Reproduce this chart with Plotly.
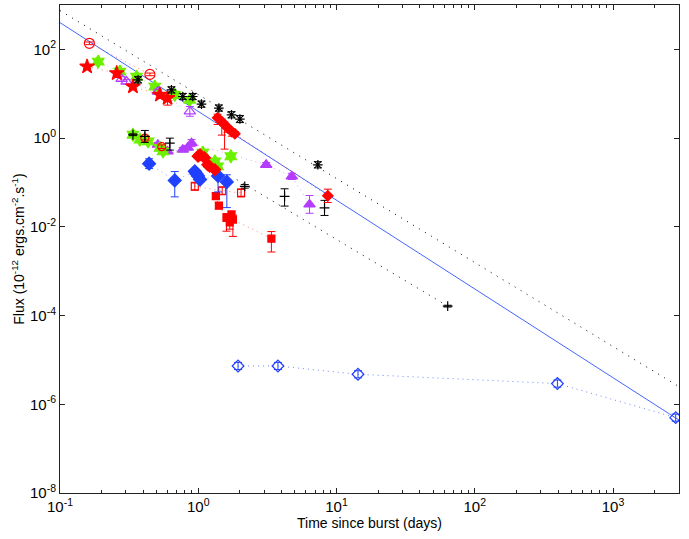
import numpy as np
import plotly.graph_objects as go

# time since burst (days) / flux (1e-12 erg cm^-2 s^-1)
red_circ_t = [0.163, 0.447]
red_circ_f = [137, 27.3]
red_circ_e = [0.03, 0.03]

red_circ2_t = [0.411, 0.545]
red_circ2_f = [1.0, 0.64]
red_circ2_e = [0.04, 0.04]

red_star_t = [0.157, 0.257, 0.337, 0.528, 0.60]
red_star_f = [40.9, 29.0, 14.5, 9.45, 8.0]
red_star_up = [0.04, 0.04, 0.04, 0.04, 0.04]
red_star_dn = [0.04, 0.04, 0.05, 0.06, 0.16]

green_t = [0.189, 0.271, 0.358, 0.485, 0.676, 0.869]
green_f = [53, 31.5, 24.4, 14.5, 9.45, 7.3]
green_e = [0.05, 0.05, 0.05, 0.05, 0.05, 0.05]

green2_t = [0.337, 0.378, 0.434, 0.528, 0.556, 1.08, 1.32, 1.38, 1.72]
green2_f = [1.19, 0.92, 0.84, 0.60, 0.50, 0.47, 0.30, 0.23, 0.39]
green2_e = [0.05, 0.05, 0.05, 0.05, 0.05, 0.05, 0.05, 0.05, 0.05]

purple_open_t = [0.279, 0.303, 0.51, 0.869]
purple_open_f = [21.6, 18.8, 11.2, 4.0]
purple_open_e = [0.05, 0.05, 0.05, 0.11]

black_ast_t = [0.367, 0.64, 0.773, 0.912, 1.055, 1.41, 1.74, 2.0, 7.33]
black_ast_f = [20.6, 12.2, 8.65, 8.65, 5.83, 4.75, 3.35, 2.69, 0.25]
black_ast_e = [0.07, 0.07, 0.07, 0.07, 0.07, 0.07, 0.07, 0.08, 0.07]

red_dia_t = [1.38, 1.48, 1.55, 1.63, 1.75, 1.84, 8.65]
red_dia_f = [2.87, 2.33, 2.0, 1.71, 1.39, 1.25, 0.050]
red_dia_up = [0.08, 0.06, 0.06, 0.05, 0.05, 0.05, 0.15]
red_dia_dn = [0.15, 0.3, 0.55, 0.1, 0.1, 0.05, 0.15]

red_dia2_t = [0.996, 1.03, 1.11, 1.17, 1.21, 1.32]
red_dia2_f = [0.39, 0.42, 0.36, 0.25, 0.23, 0.194]
red_dia2_e = [0.05, 0.05, 0.06, 0.06, 0.06, 0.06]

black_plus_t = [0.337, 0.411, 0.623, 2.17, 4.21, 8.19, 63.7]
black_plus_f = [1.19, 1.09, 0.774, 0.0817, 0.0487, 0.0267, 1.63e-4]
black_plus_up = [0.02, 0.135, 0.11, 0.04, 0.17, 0.17, 0.02]
black_plus_dn = [0.02, 0.135, 0.16, 0.04, 0.22, 0.17, 0.02]

purple_t = [0.51, 0.60, 0.773, 0.84, 0.894, 3.10, 4.75, 6.38]
purple_f = [0.71, 0.50, 0.55, 0.61, 0.77, 0.25, 0.137, 0.032]
purple_e = [0.05, 0.05, 0.05, 0.05, 0.08, 0.05, 0.07, 0.2]

blue_t = [0.441, 0.676, 0.944, 0.97, 0.996, 1.03, 1.39, 1.61]
blue_f = [0.265, 0.111, 0.178, 0.158, 0.14, 0.116, 0.14, 0.103]
blue_up = [0.11, 0.2, 0.05, 0.05, 0.05, 0.05, 0.2, 0.16]
blue_dn = [0.11, 0.37, 0.05, 0.05, 0.05, 0.05, 0.36, 0.58]

red_sq_t = [1.34, 1.41, 1.60, 1.69, 1.74, 1.78, 3.38]
red_sq_f = [0.049, 0.030, 0.0159, 0.0125, 0.0189, 0.0146, 0.0054]
red_sq_up = [0.07, 0.07, 0.1, 0.1, 0.08, 0.1, 0.16]
red_sq_dn = [0.07, 0.07, 0.3, 0.15, 0.1, 0.38, 0.3]

red_osq_t = [0.944, 1.49, 2.04]
red_osq_f = [0.082, 0.065, 0.058]
red_osq_e = [0.09, 0.09, 0.09]

blue_open_t = [1.94, 3.77, 14.3, 396, 2840]
blue_open_f = [7.3e-6, 7.3e-6, 4.74e-6, 2.93e-6, 5.0e-7]
blue_open_e = [0.08, 0.08, 0.08, 0.08, 0.08]

# power-law fits
fit_blue_t = [0.1, 3000]
fit_blue_f = [400, 4.4e-7]
fit_upper_t = [0.1, 3000]
fit_upper_f = [750, 2.5e-6]
fit_lower_t = [1.9, 63.7]
fit_lower_f = [0.116, 1.63e-4]

RED = "#ff0000"
GREEN = "#6cf000"
PURPLE = "#b43cff"
BLUE = "#2040ff"
BLACK = "#000000"

fig = go.Figure()


def add_set(t, f, up, dn, symbol, color, size, line_rgba=None, lw=1.2):
    f_arr = np.asarray(f, float)
    e_up = f_arr * (10 ** np.asarray(up, float) - 1)
    e_dn = f_arr * (1 - 10 ** -np.asarray(dn, float))
    fig.add_trace(go.Scatter(
        x=t, y=f, mode="lines+markers" if line_rgba else "markers",
        line=dict(color=line_rgba or color, width=1, dash="1px,4px"),
        marker=dict(symbol=symbol, size=size, color=color,
                    line=dict(color=color, width=lw)),
        error_y=dict(type="data", symmetric=False, array=e_up, arrayminus=e_dn,
                     color=color, thickness=1, width=4),
        showlegend=False, hoverinfo="skip",
    ))


# fit lines first so markers sit on top
fig.add_trace(go.Scatter(x=fit_blue_t, y=fit_blue_f, mode="lines",
                         line=dict(color="#4466ff", width=1), showlegend=False))
fig.add_trace(go.Scatter(x=fit_upper_t, y=fit_upper_f, mode="lines",
                         line=dict(color=BLACK, width=1, dash="1px,6px"), showlegend=False))
fig.add_trace(go.Scatter(x=fit_lower_t, y=fit_lower_f, mode="lines",
                         line=dict(color=BLACK, width=1, dash="1px,6px"), showlegend=False))

add_set(blue_open_t, blue_open_f, blue_open_e, blue_open_e, "diamond-open", BLUE, 9,
        line_rgba="rgba(60,90,255,0.75)")
add_set(red_sq_t, red_sq_f, red_sq_up, red_sq_dn, "square", RED, 7, "rgba(255,0,0,0.5)")
add_set(red_osq_t, red_osq_f, red_osq_e, red_osq_e, "square-open", RED, 7, "rgba(255,0,0,0.5)")
add_set(blue_t, blue_f, blue_up, blue_dn, "diamond", BLUE, 10, "rgba(40,70,255,0.5)")
add_set(purple_t, purple_f, purple_e, purple_e, "triangle-up", PURPLE, 10, "rgba(180,60,255,0.5)")
add_set(green2_t, green2_f, green2_e, green2_e, "hexagram", GREEN, 10, "rgba(110,240,0,0.5)")
add_set(red_dia2_t, red_dia2_f, red_dia2_e, red_dia2_e, "diamond", RED, 9, "rgba(255,0,0,0.5)")
add_set(red_circ2_t, red_circ2_f, red_circ2_e, red_circ2_e, "circle-open", RED, 8, "rgba(255,0,0,0.5)")
add_set(black_plus_t, black_plus_f, black_plus_up, black_plus_dn, "cross-thin-open", BLACK, 7)
add_set(green_t, green_f, green_e, green_e, "hexagram", GREEN, 10, "rgba(110,240,0,0.5)")
add_set(purple_open_t, purple_open_f, purple_open_e, purple_open_e, "triangle-up-open", PURPLE, 10,
        "rgba(180,60,255,0.5)")
add_set(red_star_t, red_star_f, red_star_up, red_star_dn, "star", RED, 11, "rgba(255,0,0,0.5)")
add_set(red_circ_t, red_circ_f, red_circ_e, red_circ_e, "circle-open", RED, 10, "rgba(255,0,0,0.5)")
add_set(red_dia_t, red_dia_f, red_dia_up, red_dia_dn, "diamond", RED, 8, "rgba(255,0,0,0.5)")
add_set(black_ast_t, black_ast_f, black_ast_e, black_ast_e, "asterisk-open", BLACK, 8)

x_major = [0.1, 1, 10, 100, 1000]
x_labels = ["10<sup>-1</sup>", "10<sup>0</sup>", "10<sup>1</sup>", "10<sup>2</sup>", "10<sup>3</sup>"]
x_minor = [m * 10.0 ** k for k in range(-1, 4) for m in range(2, 10) if m * 10.0 ** k < 3000]
y_major = [1e-8, 1e-6, 1e-4, 1e-2, 1, 1e2]
y_labels = ["10<sup>-8</sup>", "10<sup>-6</sup>", "10<sup>-4</sup>", "10<sup>-2</sup>", "10<sup>0</sup>", "10<sup>2</sup>"]

axis_common = dict(showgrid=False, zeroline=False, showline=True, linecolor="#222222",
                   linewidth=1, mirror="ticks", ticks="inside", ticklen=5,
                   tickcolor="#222222", tickfont=dict(size=15, color="black"))

fig.update_layout(
    width=689, height=539,
    margin=dict(l=60, r=10, t=5, b=46),
    paper_bgcolor="white", plot_bgcolor="white",
    font=dict(family="Liberation Sans, Arial, sans-serif", color="black"),
    xaxis=dict(type="log", range=[-1, np.log10(3000)], tickmode="array",
               tickvals=x_major, ticktext=x_labels,
               title=dict(text="Time since burst (days)", font=dict(size=14), standoff=2),
               minor=dict(ticks="inside", ticklen=3, tickvals=x_minor, tickcolor="#222222"),
               **axis_common),
    yaxis=dict(type="log", range=[-8, 3], tickmode="array",
               tickvals=y_major, ticktext=y_labels,
               title=dict(text="Flux (10<sup>-12</sup> ergs.cm<sup>-2</sup>.s<sup>-1</sup>)",
                          font=dict(size=14), standoff=2),
               **axis_common),
)

# the page's default body margin would shift the figure by 8px
fig.write_html("out.html", config={"displayModeBar": False},
               post_script="document.body.style.margin='0';")
